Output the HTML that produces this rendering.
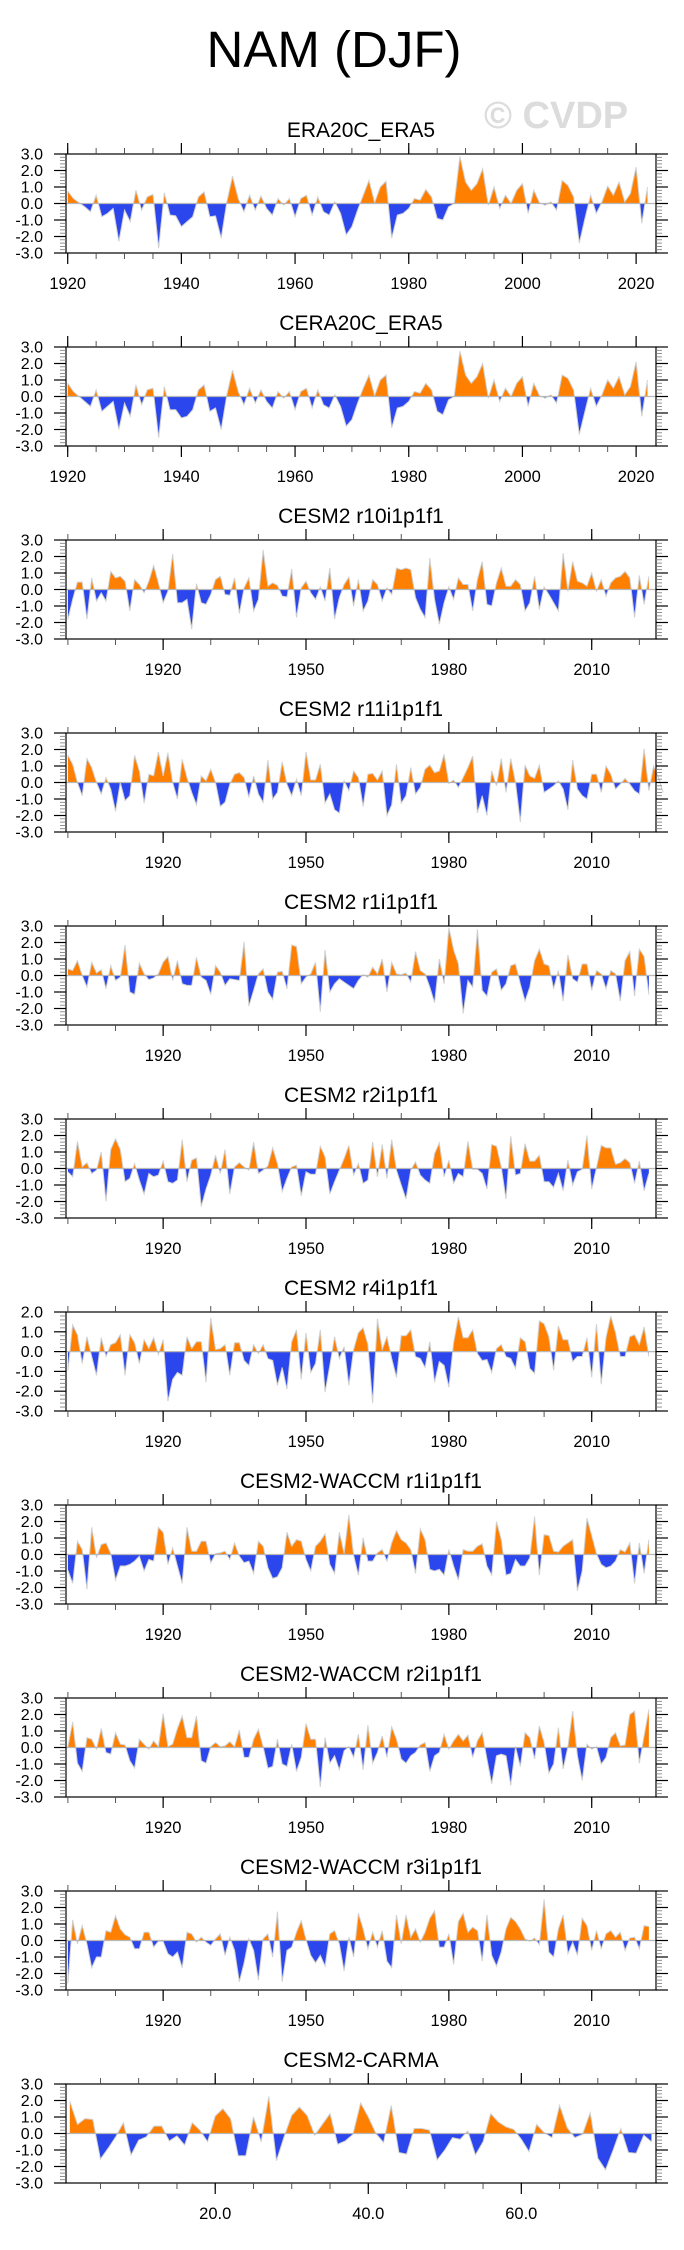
<!DOCTYPE html>
<html><head><meta charset="utf-8">
<style>
html,body{margin:0;padding:0;background:#fff;}
svg{display:block;font-family:"Liberation Sans",Arial,sans-serif;}
</style></head>
<body>
<svg id="chart" width="684" height="2250" viewBox="0 0 684 2250" xmlns="http://www.w3.org/2000/svg">
<text x="334" y="67" font-size="51" text-anchor="middle" fill="#000">NAM (DJF)</text>
<text x="484" y="128" font-size="38" font-weight="bold" fill="#dcdcdc">© CVDP</text>
</svg>
<script>
const titles = ["ERA20C_ERA5","CERA20C_ERA5","CESM2 r10i1p1f1","CESM2 r11i1p1f1","CESM2 r1i1p1f1","CESM2 r2i1p1f1","CESM2 r4i1p1f1","CESM2-WACCM r1i1p1f1","CESM2-WACCM r2i1p1f1","CESM2-WACCM r3i1p1f1","CESM2-CARMA"];
const era20c = [0.75,0.3,0.05,-0.2,-0.5,0.5,-0.8,-0.6,-0.3,-2.3,-0.4,-1.1,0.8,-0.4,0.4,0.55,-2.7,0.65,-0.7,-0.75,-1.4,-1.1,-0.8,0.4,0.7,-0.8,-0.75,-2.1,0.1,1.65,0.3,-0.5,0.5,-0.4,0.45,-0.3,-0.7,0.3,-0.1,0.3,-0.8,0.3,0.5,-0.7,0.4,-0.5,-0.7,0.1,-0.6,-1.9,-1.4,-0.4,0.5,1.4,0.05,1.0,1.35,-2.1,-0.7,-0.6,-0.3,0.3,0.2,0.85,0.4,-0.9,-1.0,-0.2,0.0,2.85,1.3,0.8,1.2,2.1,-0.1,1.0,-0.3,0.5,0.0,0.8,1.2,-0.6,0.8,0.05,-0.1,0.1,-0.4,1.4,1.1,0.4,-2.4,-0.9,0.5,-0.6,0.1,1.05,0.5,1.3,0.1,0.6,2.2,-1.2,1.0];
const cera20c = [0.8,0.3,0.0,-0.3,-0.6,0.4,-0.9,-0.6,-0.3,-2.0,-0.4,-1.2,0.7,-0.5,0.4,0.5,-2.5,0.6,-0.8,-0.8,-1.3,-1.2,-0.8,0.4,0.7,-0.9,-0.7,-2.0,0.1,1.6,0.3,-0.5,0.5,-0.4,0.4,-0.3,-0.7,0.3,-0.1,0.3,-0.8,0.3,0.5,-0.7,0.4,-0.5,-0.7,0.1,-0.6,-1.8,-1.4,-0.4,0.5,1.3,0.05,1.0,1.3,-1.9,-0.7,-0.6,-0.3,0.3,0.2,0.8,0.4,-0.9,-1.1,-0.2,0.0,2.75,1.3,0.8,1.2,2.0,-0.1,1.0,-0.3,0.5,0.0,0.8,1.2,-0.6,0.8,0.05,-0.1,0.1,-0.4,1.3,1.1,0.4,-2.3,-0.9,0.5,-0.6,0.1,1.0,0.5,1.2,0.1,0.6,2.1,-1.2,1.0];
const r10 = [-1.8,-0.6,0.45,0.45,-1.8,0.7,-0.7,-0.2,-0.7,1.1,0.7,0.8,0.5,-1.3,0.6,0.3,-0.2,0.5,1.45,0.4,-0.8,-0.1,2.15,-0.8,-0.8,-0.6,-2.4,0.35,-0.8,-0.9,-0.3,0.6,0.8,-0.3,-0.35,0.7,-1.45,0.1,0.7,-1.3,-0.6,2.4,0.2,0.4,0.25,-0.4,-0.45,1.25,-1.7,0.1,0.5,-0.2,-0.6,0.15,-0.7,1.3,-1.8,-0.5,0.3,0.75,-1.0,0.6,-1.3,-0.7,0.6,0.3,-0.7,0.1,-0.3,1.3,1.2,1.3,1.2,-0.5,-1.2,-1.7,1.9,-0.6,-2.1,-0.8,0.15,-0.6,0.7,0.3,0.3,-1.3,0.6,1.7,-0.9,-1.0,0.4,1.3,0.2,0.2,0.6,0.3,-1.3,-0.8,0.8,-1.2,0.15,-0.3,-0.8,-1.3,2.2,-0.1,1.7,0.5,0.4,0.2,1.0,-0.1,0.6,-0.4,0.4,0.7,0.8,1.1,0.7,-1.7,0.85,-0.9,0.8];
const r11 = [1.65,1.1,0,-0.8,1.45,0.9,0,-0.7,0.3,-0.4,-1.75,0,-1.1,-0.8,1.65,0.7,-1.25,0.5,0.4,1.85,0.4,1.8,0,-1.0,1.4,0.3,-0.6,-1.35,0.4,0.1,0.8,0,-1.45,-1.2,-0.1,0.5,0.6,0.3,-0.9,0.4,-0.7,-1.2,1.35,-1.0,-0.6,1.25,-0.1,-0.8,0.2,-0.8,1.85,0.15,0.15,1.1,-1.25,-0.7,-1.65,-1.85,0.1,-0.5,0.7,0.3,-1.45,0.5,0.55,0.15,0.7,-2.0,-1.35,1.1,-1.25,-0.8,0.9,-0.7,-0.3,0.8,1.05,0.6,0.7,1.7,-0.05,0.15,-0.3,0.3,0.9,1.6,-1.85,-0.8,-2.0,0.7,-0.2,1.45,-0.6,1.45,0,-2.4,1.05,0.4,0.25,1.05,-0.6,-0.4,-0.2,0.1,-0.4,-1.65,1.35,-0.4,-0.8,-1.0,0.5,0.5,-0.6,1.0,0.5,-0.4,-0.1,0.25,-0.1,-0.5,-0.7,2.05,-0.5,1.0,0.3,-0.6];
const r1 = [0.4,0.3,0.9,0,-0.7,0.8,0.15,0.35,-0.8,0.6,-0.3,-0.1,1.85,-1.0,-1.15,0.75,0.1,-0.25,-0.15,0.1,0.8,1.15,-0.3,0.9,-0.5,-0.6,-0.6,1.1,-0.1,-0.3,-1.15,0.6,0.2,-0.6,-0.2,-0.25,-0.3,2.05,-1.85,-0.9,0.1,0.4,-1.0,-1.45,0.2,0.25,-0.8,1.85,1.75,-0.5,-0.1,0.1,0.8,-2.2,1.55,-1.0,-0.5,-0.2,-0.4,-0.6,-0.8,-0.3,0.05,-0.1,0.5,0.1,1.0,-1.0,0.8,0.1,0.05,0.15,-0.4,1.45,0.3,0.1,-0.7,-1.65,1.0,-0.5,2.9,1.55,0.7,-2.3,-0.3,-0.7,2.8,-0.9,-1.25,0.2,0.4,-0.9,-0.5,0.6,0.7,-0.5,-1.55,-0.7,0.9,1.6,0.7,0.6,-0.8,0.3,-1.55,1.25,-0.2,-0.4,0.7,0.7,-0.9,0.3,0.1,-0.8,0.3,0.1,-1.55,0.9,1.45,-1.25,1.6,1.15,-1.15];
const r2 = [-0.2,-0.5,1.65,0.1,0.35,-0.3,-0.1,1.0,-2.0,1.15,1.8,1.15,-0.8,-0.6,0.3,-0.7,-1.55,-0.3,-0.5,-0.4,0.45,-0.8,-0.9,-0.7,1.75,-0.8,0.5,0.65,-2.3,-1.25,-0.4,0.8,-0.3,1.15,-1.55,0.1,0.35,0.1,-0.1,1.6,-0.3,-0.1,0.15,1.25,0.3,-1.4,-0.6,0.1,0.2,-1.65,-0.2,-0.35,-0.35,1.35,0.7,-1.55,-0.8,-0.1,0.6,1.4,-0.4,0.3,-0.9,-0.7,1.6,-0.5,1.45,-0.6,1.75,-0.1,-1.0,-1.85,-0.1,0.4,-0.4,-0.7,-0.9,0.9,1.55,-0.5,0.5,-0.9,-0.3,-0.5,1.65,-0.05,-0.05,-0.3,-1.25,1.45,1.35,0.1,-1.85,1.95,-0.4,-0.3,1.5,0.45,0.45,0.8,-0.8,-0.8,-1.15,-0.3,-1.35,0.5,-1.0,-0.2,-0.05,2.0,-1.25,0.05,1.4,1.25,1.25,0.25,0.35,0.6,0.35,-0.9,0.45,-1.35,-0.3];
const r4 = [-0.95,1.35,0.85,-0.6,0.75,-0.25,-1.2,0.7,-0.25,0.35,0.45,0.85,-1.2,0.85,0.45,-0.6,0.6,0.15,0.7,-0.15,0.6,-2.5,-1.4,-1.05,-1.2,0.75,0.15,0.5,0.5,-1.55,1.7,0.1,0.15,0.35,-1.2,0.45,0.45,-0.45,-0.7,0.35,-0.1,0.35,-0.35,-0.45,-1.7,-0.8,-1.9,0.5,1.1,-1.4,0.95,-1.05,-0.6,1.1,-2.05,-0.7,0.75,-0.35,0.25,-1.7,0.1,0.95,1.2,0.35,-2.6,1.65,0.1,0.75,-0.35,-1.3,0.8,0.8,1.1,-0.25,-0.35,-0.8,0.5,-1.55,-0.5,-0.7,-1.8,0.45,1.75,0.7,0.7,1.1,-0.1,-0.45,-0.4,-1.05,0.15,0.35,-0.25,-0.35,-0.85,0.7,0.5,-0.85,-1.1,1.55,1.4,0.75,-0.95,1.3,0.6,0.6,-0.5,-0.25,-0.25,0.7,-1.3,1.4,-1.65,0.7,1.8,0.95,-0.25,-0.25,0.75,0.85,0.35,1.25,-0.25];
const w1 = [-0.95,-1.75,0.8,0.3,-2.1,1.65,-0.2,0.6,0.7,0.05,-1.55,-0.7,-0.7,-0.6,-0.4,-0.1,-1.0,-0.3,-0.4,1.65,1.35,-0.6,0.4,-0.7,-1.75,1.65,0.2,0.2,0.8,0.8,-0.5,0.05,0.1,0.2,-0.3,0.7,-0.1,-0.5,-0.4,-1.15,0.8,0.5,-0.8,-1.45,-1.35,-0.8,1.35,0.5,0.9,0.8,-0.3,-1.0,0.5,0.8,1.25,-0.6,-1.15,1.35,0.05,2.4,-0.05,-1.25,1.0,-0.4,-0.4,0.1,0.3,-0.4,0.7,1.45,0.9,0.7,0.3,-1.15,1.55,0.9,-0.9,-1.0,-0.9,-1.25,0.3,-0.7,-1.55,0.3,0.2,0.2,0.5,0.65,-0.7,-1.25,2.0,0.9,-1.25,-1.15,-0.3,-0.7,-0.7,-0.2,2.3,-1.25,1.2,1.15,0.2,0.15,0.5,0.7,0.9,-2.2,-1.0,2.2,1.15,0.05,-0.6,-0.8,-0.7,-0.4,0.3,0.15,0.7,-1.75,0.7,-1.15,0.9];
const w2 = [0.05,1.55,-0.95,-1.45,0.6,0.5,-0.1,1.15,-0.3,-0.4,0.9,0.2,0.15,-0.8,-1.25,0.5,0.2,-0.1,0.4,0.05,2.05,0.05,0.2,1.15,1.9,0.6,0.6,1.9,-0.8,-0.95,0.05,0.3,0.05,0.1,0.35,0.05,1.05,-0.6,-0.6,0.5,1.1,0.05,-1.25,-1.15,0.5,-1.0,-1.15,0.2,-1.45,-0.6,1.45,0.5,0.5,-2.4,0.6,-0.95,-0.5,-1.35,-0.2,0.05,-0.6,0.8,-1.35,1.35,-0.95,-0.3,0.7,-0.6,1.25,0.5,-0.7,-0.95,-0.5,-0.3,0.15,0.3,-1.45,-0.5,-0.3,0.8,-0.1,0.4,0.8,0.4,0.75,-0.6,0.4,0.9,-0.7,-2.2,-0.5,-0.4,-0.5,-2.3,0.05,-1.15,0.9,0.6,-0.7,1.3,0.3,-1.55,-1.0,1.2,-1.3,0.05,2.2,-0.5,-2.0,0.2,-0.1,0.05,-1.0,-0.6,0.6,0.9,0.1,0.15,2.0,2.2,-0.95,0.7,2.3];
const w3 = [-2.6,1.25,-0.2,0.9,-0.2,-1.65,-1.0,-1.0,0.6,0.5,1.5,0.7,0.35,0.2,-0.5,-0.5,0.5,0.5,-0.4,-0.05,-0.05,-0.8,-1.0,-0.7,-1.65,0.5,0.4,-0.1,0.2,-0.1,-0.3,0.1,0.4,-0.9,0.2,-0.6,-2.5,-1.35,0.1,-0.6,-2.4,0.1,0.4,-1.0,1.75,-2.5,-0.6,-0.4,0.5,1.2,0.05,-0.9,-1.35,-0.9,-1.55,0.4,0.6,-0.2,-1.85,0.2,-1.0,1.65,0.7,-0.5,0.5,-0.4,0.6,-1.25,-1.65,1.55,-0.2,1.55,0.2,0.7,-0.1,0.5,1.35,1.8,-0.4,-0.4,0.4,-1.45,1.15,1.65,0.5,0.8,0.6,-1.25,1.55,-0.9,-1.55,-0.7,0.7,1.4,1.15,0.7,0.1,-0.05,0.15,-0.25,2.5,-0.7,-1.0,0.7,1.55,-0.8,-0.1,-0.9,1.35,0.9,-0.6,0.6,-0.5,0.4,0.6,0.2,0.5,-0.6,0.15,0.2,-0.5,0.9,0.85];
const carma = [1.95,0.55,0.9,0.85,-1.55,-0.9,-0.2,0.65,-1.3,-0.4,-0.2,0.45,0.45,-0.45,-0.15,-0.7,0.65,0.2,-0.5,1.05,1.5,0.9,-1.35,-1.35,1.0,-0.5,2.25,-1.65,-0.2,1.1,1.6,1.1,-0.1,0.55,1.2,-0.65,-0.45,-0.05,1.85,1.0,0.0,-0.55,1.7,-1.15,-1.25,0.3,0.3,0.2,-1.6,-1.0,-0.25,-0.35,0.15,-1.3,-0.5,1.2,0.7,0.4,0.25,-0.35,-1.1,0.55,0.05,-0.25,1.7,0.35,-0.25,-0.05,1.25,-1.5,-2.2,-1.0,0.3,-1.15,-1.2,-0.1,-0.5];
const series = [era20c,cera20c,r10,r11,r1,r2,r4,w1,w2,w3,carma];
const startX = [1920,1920,1900,1900,1900,1900,1900,1900,1900,1900,1];
const yMaxes = [3,3,3,3,3,3,2,3,3,3,3];
const majorTicksA = ["1920","1940","1960","1980","2000","2020"];
const majorTicksB = ["1920","1950","1980","2010"];
const majorTicksC = ["20.0","40.0","60.0"];

const svg = document.getElementById('chart');
const NS = 'http://www.w3.org/2000/svg';
const L = 66, R = 656, H = 99, TOP0 = 154, STEP = 193;
function mk(tag, attrs, parent){
  const e = document.createElementNS(NS, tag);
  for (const k in attrs) e.setAttribute(k, attrs[k]);
  (parent||svg).appendChild(e);
  return e;
}
for (let p = 0; p < series.length; p++) {
  const top = TOP0 + STEP*p, bot = top + H;
  const data = series[p], x0 = startX[p];
  let dmin, dmax, majors, minorStep, minorStart;
  if (p < 2) { dmin = 1919.7; dmax = 2023.5; majors = majorTicksA; minorStep = 5; minorStart = 1920; }
  else if (p < 10) { dmin = 1899.6; dmax = 2023.5; majors = majorTicksB; minorStep = 10; minorStart = 1900; }
  else { dmin = 0.5; dmax = 77.6; majors = majorTicksC; minorStep = 5; minorStart = 5; }
  const ymax = yMaxes[p], ymin = -3;
  const xs = v => L + (v - dmin) / (dmax - dmin) * (R - L);
  const ys = v => top + (ymax - v) / (ymax - ymin) * H;
  const g = mk('g', {});
  
  
  const t = mk('text', {x: 361, y: top - 17, 'font-size': 21, 'text-anchor': 'middle', fill: '#000'}, g);
  
  
  t.textContent = titles[p];
  const y0 = ys(0);
  const pts = data.map((v, i) => xs(x0 + i).toFixed(2) + ',' + ys(v).toFixed(2));
  const xa = xs(x0), xb = xs(x0 + data.length - 1);
  const poly = xa.toFixed(2) + ',' + y0 + ' ' + pts.join(' ') + ' ' + xb.toFixed(2) + ',' + y0;
  const cpA = mk('clipPath', {id: 'ca' + p}, g); mk('rect', {x: L, y: top, width: R - L, height: y0 - top}, cpA);
  const cpB = mk('clipPath', {id: 'cb' + p}, g); mk('rect', {x: L, y: y0, width: R - L, height: bot - y0}, cpB);
  const pos = mk('polygon', {points: poly, fill: '#ff8000', 'clip-path': 'url(#ca' + p + ')'}, g);
  
  
  const neg = mk('polygon', {points: poly, fill: '#2a46ec', 'clip-path': 'url(#cb' + p + ')'}, g);
  
  
  const ln = mk('polyline', {points: pts.join(' '), fill: 'none', stroke: '#d0d0d0', 'stroke-width': 1}, g);
  
  
  mk('line', {x1: L, x2: R, y1: y0, y2: y0, stroke: '#b8b8b8', 'stroke-width': 1.2}, g);
  const box = mk('rect', {x: L, y: top, width: R - L, height: H, fill: 'none', stroke: '#000', 'stroke-width': 1.2}, g);
  
  
  for (let k = ymin*5; k <= ymax*5; k++) {
    const v = k/5, yy = ys(v), major = (k % 5 === 0);
    const len = major ? 12 : 6;
    mk('line', {x1: L - len, x2: L, y1: yy, y2: yy, stroke: major ? '#000' : '#777', 'stroke-width': major ? 1.2 : 0.8}, g);
    mk('line', {x1: R, x2: R + len, y1: yy, y2: yy, stroke: major ? '#000' : '#777', 'stroke-width': major ? 1.2 : 0.8}, g);
    if (major) {
      const yl = mk('text', {x: 43, y: yy + 5.5, 'font-size': 16, 'text-anchor': 'end', fill: '#000'}, g);
      
      
      yl.textContent = v.toFixed(1);
    }
  }
  for (let v = minorStart; v <= dmax; v += minorStep) {
    if (v < dmin) continue;
    const xx = xs(v);
    mk('line', {x1: xx, x2: xx, y1: top - 6, y2: top, stroke: '#444', 'stroke-width': 0.9}, g);
    mk('line', {x1: xx, x2: xx, y1: bot, y2: bot + 6, stroke: '#444', 'stroke-width': 0.9}, g);
  }
  majors.forEach(lab => {
    const v = parseFloat(lab), xx = xs(v);
    mk('line', {x1: xx, x2: xx, y1: top - 11, y2: top, stroke: '#000', 'stroke-width': 1.2}, g);
    mk('line', {x1: xx, x2: xx, y1: bot, y2: bot + 11, stroke: '#000', 'stroke-width': 1.2}, g);
    const xl = mk('text', {x: xx, y: bot + 36, 'font-size': 16.5, 'text-anchor': 'middle', fill: '#000'}, g);
    
    
    xl.textContent = lab;
  });
}
</script>
</body></html>
